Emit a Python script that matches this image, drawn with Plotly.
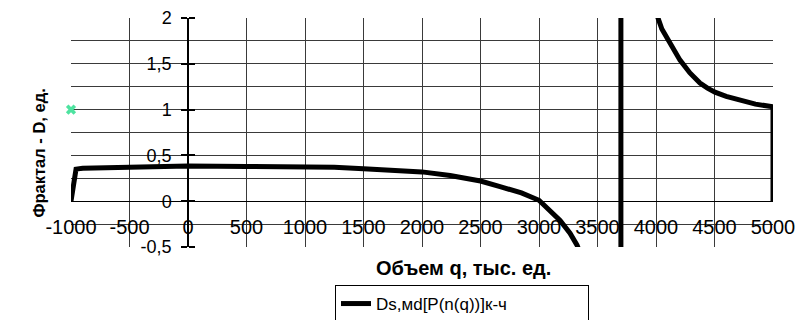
import plotly.graph_objects as go

# --- data ---
q_values = [-1000, -957, -900, -700, -560, -500, 0, 500, 1000, 1250, 1500, 1750, 2000,
            2240, 2500, 2667, 2850, 3000, 3094, 3180, 3265, 3325, 3400,
            3700, 3700,
            4017, 4050, 4094, 4150, 4205, 4290, 4376, 4440, 4504, 4600, 4718, 4850, 5000, 5000]
d_values = [0.0, 0.35, 0.36, 0.365, 0.37, 0.38, 0.385, 0.38, 0.375, 0.37, 0.355, 0.34, 0.32,
            0.28, 0.22, 0.16, 0.09, 0.01, -0.10, -0.21, -0.35, -0.48, -0.72,
            -30.0, 30.0,
            2.0, 1.88, 1.78, 1.65, 1.54, 1.40, 1.29, 1.235, 1.19, 1.145, 1.10, 1.06, 1.03, 0.0]

marker_q = [-1000]
marker_d = [1.0]

x_tickvals = [-1000, -500, 0, 500, 1000, 1500, 2000, 2500, 3000, 3500, 4000, 4500, 5000]
x_ticktext = ["-1000", "-500", "0", "500", "1000", "1500", "2000", "2500", "3000",
              "3500", "4000", "4500", "5000"]
y_tickvals = [-0.5, 0, 0.5, 1, 1.5, 2]
y_ticktext = ["-0,5", "0", "0,5", "1", "1,5", "2"]
y_minorvals = [-0.25, 0.25, 0.75, 1.25, 1.75]

series_name = "Ds,мd[P(n(q))]к-ч"
x_title = "Объем q, тыс. ед."
y_title = "Фрактал - D, ед."

FONT = "Arial, Liberation Sans, sans-serif"
GRID = "#3a3a3a"

# the page body adds an 8px offset, so the figure is 8px smaller than the window
W, H = 802, 312

fig = go.Figure()
fig.add_trace(go.Scatter(
    x=q_values, y=d_values, mode="lines", name=series_name,
    line=dict(color="black", width=5), showlegend=True,
))
fig.add_trace(go.Scatter(
    x=marker_q, y=marker_d, mode="markers", showlegend=False,
    marker=dict(symbol="x", size=9, color="#4ee3a0"), cliponaxis=False,
))
# overlay axis to give crossing tick marks on the y axis
fig.add_trace(go.Scatter(x=[None], y=[None], yaxis="y2", showlegend=False, hoverinfo="skip"))

fig.update_layout(
    width=W, height=H,
    margin=dict(l=63, r=37, t=10, b=73, autoexpand=False),
    paper_bgcolor="white", plot_bgcolor="white",
    font=dict(family=FONT, color="black"),
    xaxis=dict(
        range=[-1000, 5000], tickmode="array", tickvals=x_tickvals, ticktext=x_ticktext,
        showgrid=True, gridcolor=GRID, gridwidth=1, zeroline=False, automargin=False,
        anchor="free", position=0.2, showline=True, linecolor="black", linewidth=1,
        ticks="", tickangle=0, ticklabelstandoff=8,
        tickfont=dict(size=20, family=FONT, color="black"),
    ),
    yaxis=dict(
        range=[-0.5, 2], tickmode="array", tickvals=y_tickvals, ticktext=y_ticktext,
        showgrid=True, gridcolor=GRID, gridwidth=1, zeroline=False, automargin=False,
        minor=dict(tickmode="array", tickvals=y_minorvals, showgrid=True, gridcolor=GRID,
                   gridwidth=1, ticks=""),
        anchor="free", position=1000 / 6000, showline=True, linecolor="black", linewidth=1.5,
        ticks="outside", ticklen=6, tickcolor="black", tickwidth=1.5, ticklabelstandoff=6,
        tickfont=dict(size=18, family=FONT, color="black"),
    ),
    yaxis2=dict(
        range=[-0.5, 2], overlaying="y", side="right", anchor="free", position=1000 / 6000,
        tickmode="array", tickvals=y_tickvals, showticklabels=False, showgrid=False,
        zeroline=False, showline=False, ticks="outside", ticklen=6, tickcolor="black",
        tickwidth=1.5, automargin=False,
    ),
    legend=dict(
        xref="container", yref="container",
        x=(335 - 8) / W, y=(H - (285 - 8)) / H, xanchor="left", yanchor="top",
        orientation="h",
        bordercolor="black", borderwidth=1, bgcolor="white",
        font=dict(size=17, family=FONT, color="black"),
        tracegroupgap=0, itemwidth=30, entrywidth=207, entrywidthmode="pixels",
    ),
    annotations=[
        dict(text=f"<b>{x_title}</b>", xref="paper", yref="paper", x=0.5598, y=-0.0917,
             xanchor="center", yanchor="middle", showarrow=False,
             font=dict(size=20, family=FONT, color="black")),
        dict(text=f"<b>{y_title}</b>", xref="paper", yref="paper", x=-0.0449, y=0.41,
             xanchor="center", yanchor="middle", showarrow=False, textangle=-90,
             font=dict(size=16.5, family=FONT, color="black")),
    ],
    showlegend=True,
)

fig.write_html("out.html")
